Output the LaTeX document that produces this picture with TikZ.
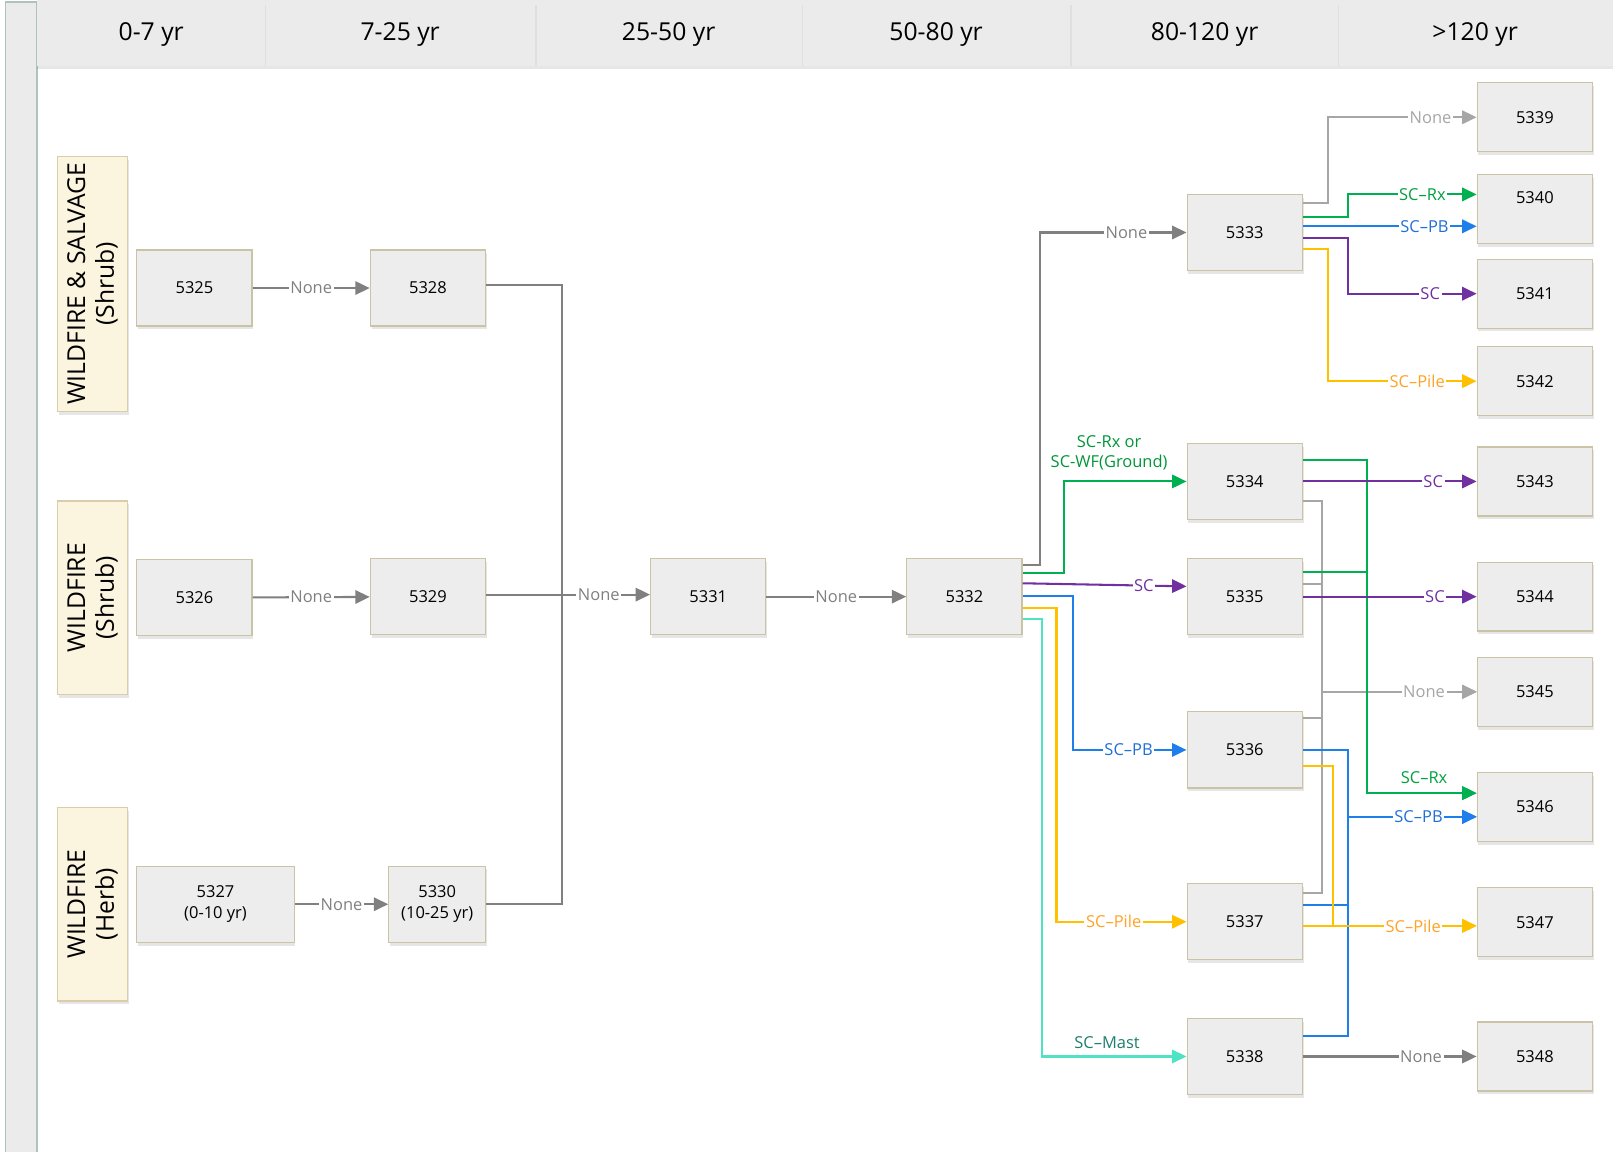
\documentclass[tikz,border=0pt]{standalone}
\usepackage{fontspec}
\setmainfont{Open Sans}
\usetikzlibrary{arrows.meta,shadows}

\definecolor{boxfill}{HTML}{EDEDED}
\definecolor{boxline}{HTML}{CBC3A6}
\definecolor{headfill}{HTML}{EBEBEB}
\definecolor{stripline}{HTML}{AFC2BB}
\definecolor{rowfill}{HTML}{FBF4DF}
\definecolor{rowline}{HTML}{D8CEAC}
\definecolor{darkgray}{HTML}{808080}
\definecolor{litegray}{HTML}{A6A6A6}
\definecolor{rxline}{HTML}{00B050}
\definecolor{rxtext}{HTML}{00A040}
\definecolor{rxdark}{HTML}{009638}
\definecolor{pbline}{HTML}{1F7FEA}
\definecolor{pbtext}{HTML}{1F6FD8}
\definecolor{scline}{HTML}{7030A0}
\definecolor{pileline}{HTML}{FFC000}
\definecolor{piletext}{HTML}{FFA326}
\definecolor{mastline}{HTML}{4FE3C4}
\definecolor{masttext}{HTML}{1E7E6C}

\tikzset{
  stbox/.style={draw=boxline, fill=boxfill, line width=0.6pt, minimum width=56pt,
    minimum height=37pt, inner sep=1pt, align=center, font=\fontsize{8}{10}\selectfont,
    drop shadow={shadow xshift=0.6pt, shadow yshift=-1.6pt, opacity=0.2}},
  endbox/.style={stbox, minimum height=33.5pt},
  rowlab/.style={draw=rowline, fill=rowfill, line width=0.6pt, rotate=90, minimum height=34pt,
    inner sep=1pt, align=center, font=\fontsize{12}{14}\selectfont,
    drop shadow={shadow xshift=0.6pt, shadow yshift=-1.6pt, opacity=0.2}},
  headtxt/.style={font=\fontsize{12}{14}\selectfont},
  lab/.style={fill=white, inner sep=0.8pt, font=\fontsize{8}{9.5}\selectfont},
  toplab/.style={above, inner sep=1.5pt, font=\fontsize{8}{9.5}\selectfont, align=center},
  conn/.style={line width=1pt, -{Triangle[length=7pt,width=6.5pt]}},
  nonedark/.style={conn, color=darkgray},
  nonelite/.style={conn, color=litegray},
  scrx/.style={conn, color=rxline, text=rxtext},
  scpb/.style={conn, color=pbline, text=pbtext},
  scsc/.style={conn, color=scline},
  scpile/.style={conn, color=pileline, text=piletext},
  scmast/.style={conn, color=mastline, text=masttext}
}

\begin{document}
\begin{tikzpicture}[x=0.5pt, y=-0.5pt]
  \useasboundingbox (0,0) rectangle (1568,1119);

  % frame: left strip and age header
  \draw[stripline, fill=headfill, line width=0.6pt] (5,2) rectangle (36,1125);
  \fill[headfill, drop shadow={shadow xshift=0pt, shadow yshift=-1.5pt, opacity=0.2}] (36,0) rectangle (1568,64);
  \foreach \x in {258,521,780,1041,1301}
    \draw[gray!25, line width=0.6pt] (\x,5) -- (\x,64);
  \node[headtxt] (h1) at (147,34) {0-7 yr};
  \node[headtxt] (h2) at (389,34) {7-25 yr};
  \node[headtxt] (h3) at (650,34) {25-50 yr};
  \node[headtxt] (h4) at (910,34) {50-80 yr};
  \node[headtxt] (h5) at (1171,34) {80-120 yr};
  \node[headtxt] (h6) at (1434,34) {>120 yr};

  % row labels
  \node[rowlab, minimum width=124pt] (r1) at (90,276) {WILDFIRE \& SALVAGE\\(Shrub)};
  \node[rowlab, minimum width=94pt] (r2) at (90,581) {WILDFIRE\\(Shrub)};
  \node[rowlab, minimum width=94pt] (r3) at (90,879) {WILDFIRE\\(Herb)};

  % states
  \node[stbox] (n5325) at (189,280) {5325};
  \node[stbox] (n5328) at (416,280) {5328};
  \node[stbox] (n5326) at (189,581) {5326};
  \node[stbox] (n5329) at (416,580) {5329};
  \node[stbox, minimum width=76.5pt] (n5327) at (209.5,879) {5327\\(0-10 yr)};
  \node[stbox, minimum width=47pt] (n5330) at (425,879) {5330\\(10-25 yr)};
  \node[stbox] (n5331) at (688.5,580) {5331};
  \node[stbox] (n5332) at (937.5,580) {5332};
  \node[stbox] (n5333) at (1210,226) {5333};
  \node[stbox] (n5334) at (1210,468) {5334};
  \node[stbox] (n5335) at (1210,580) {5335};
  \node[stbox] (n5336) at (1210,729) {5336};
  \node[stbox] (n5337) at (1210,896) {5337};
  \node[stbox] (n5338) at (1210,1027) {5338};
  \node[endbox] (n5339) at (1492,114) {5339};
  \node[endbox] (n5340) at (1492,203) {\raisebox{11pt}{5340}};
  \node[endbox] (n5341) at (1492,285.5) {5341};
  \node[endbox] (n5342) at (1492,370.5) {5342};
  \node[endbox] (n5343) at (1492,468) {5343};
  \node[endbox] (n5344) at (1492,580) {5344};
  \node[endbox] (n5345) at (1492,672.5) {5345};
  \node[endbox] (n5346) at (1492,784.5) {5346};
  \node[endbox] (n5347) at (1492,896.5) {5347};
  \node[endbox] (n5348) at (1492,1027) {5348};

  % early years
  \coordinate (mrg) at (546,578);
  \draw[nonedark] (n5325) -- node[lab]{None} (n5328);
  \draw[nonedark] (n5326) -- node[lab]{None} (n5329);
  \draw[nonedark] (n5327) -- node[lab]{None} (n5330);
  \draw[nonedark, -] (n5328.east |- 0,277) -| (mrg);
  \draw[nonedark, -] (n5330.east) -| (mrg);
  \draw[nonedark, -] (n5329.east |- 0,578) -- (mrg);
  \draw[nonedark] (mrg) -- node[lab, pos=0.42]{None} (n5331.west |- mrg);
  \draw[nonedark] (n5331) -- node[lab]{None} (n5332);

  % out of 5332
  \draw[nonedark] (n5332.east |- 0,549) -| (1011,226) -- node[lab, pos=0.59]{None} (n5333);
  \draw[scrx] (n5332.east |- 0,557) -| (1034,468) -- node[toplab, pos=0.37, yshift=3.5pt, text=rxdark]{SC-Rx or\\SC-WF(Ground)} (n5334);
  \draw[scsc] (n5332.east |- 0,567) -- node[lab, pos=0.74]{SC} (n5335.west |- 0,570);
  \draw[scpb] (n5332.east |- 0,579) -| (1043,729) -- node[lab, pos=0.49]{SC--PB} (n5336);
  \draw[scpile] (n5332.east |- 0,591) -| (1027,896) -- node[lab, pos=0.44]{SC--Pile} (n5337);
  \draw[scmast] (n5332.east |- 0,602) -| (1013,1027) -- node[toplab, pos=0.45, yshift=2pt]{SC--Mast} (n5338);

  % out of 5333
  \draw[nonelite] (n5333.east |- 0,197) -| (1291,114) -- node[lab, pos=0.69]{None} (n5339);
  \draw[scrx] (n5333.east |- 0,211) -| (1310,189) -- node[lab, pos=0.58]{SC--Rx} (n5340.west |- 0,189);
  \draw[scpb] (n5333.east |- 0,220) -- node[lab, pos=0.7]{SC--PB} (n5340.west |- 0,220);
  \draw[scsc] (n5333.east |- 0,231) -| (1310,285.5) -- node[lab, pos=0.64]{SC} (n5341);
  \draw[scpile] (n5333.east |- 0,242) -| (1291,370.5) -- node[lab, pos=0.6]{SC--Pile} (n5342);

  % out of 5334 to 5338
  \draw[nonelite] (n5335.east |- 0,568) -| (1285,672.5) -- (n5345);
  \draw[nonelite] (n5336.east |- 0,698) -| (1285,672.5) -- (n5345);
  \draw[nonelite] (n5337.east |- 0,868) -| (1285,672.5) -- (n5345);
  \draw[nonelite] (n5334.east |- 0,487) -| (1285,672.5) -- node[lab, pos=0.66]{None} (n5345);
  \draw[scrx] (n5335.east |- 0,556) -| (1329,771) -- (n5346.west |- 0,771);
  \draw[scrx] (n5334.east |- 0,447) -| (1329,771) -- node[toplab, pos=0.52, yshift=2.5pt]{SC--Rx} (n5346.west |- 0,771);
  \draw[scsc] (n5334) -- node[lab, pos=0.75]{SC} (n5343);
  \draw[scsc] (n5335) -- node[lab, pos=0.76]{SC} (n5344);
  \draw[scpb] (n5337.east |- 0,880) -| (1310,794) -- (n5346.west |- 0,794);
  \draw[scpb] (n5338.east |- 0,1007) -| (1310,794) -- (n5346.west |- 0,794);
  \draw[scpb] (n5336.east |- 0,729) -| (1310,794) -- node[lab, pos=0.55]{SC--PB} (n5346.west |- 0,794);
  \draw[scpile] (n5336.east |- 0,745) -| (1296,900) -- (n5347.west |- 0,900);
  \draw[scpile] (n5337.east |- 0,900) -- node[lab, pos=0.635]{SC--Pile} (n5347.west |- 0,900);
  \draw[nonedark] (n5338) -- node[lab, pos=0.68]{None} (n5348);
\end{tikzpicture}
\end{document}
